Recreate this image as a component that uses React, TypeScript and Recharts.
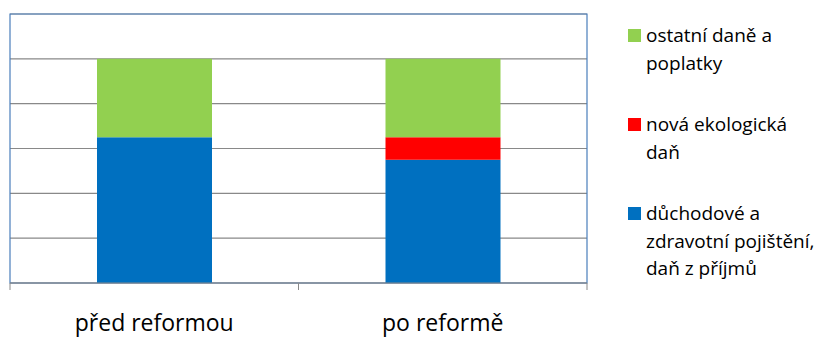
import React from "react";
import {
  BarChart,
  Bar,
  XAxis,
  YAxis,
  CartesianGrid,
  Legend,
  ReferenceArea,
} from "recharts";

const categories = ["před reformou", "po reformě"];
const pensionAndIncome = [3.25, 2.75];
const ecoTax = [0, 0.5];
const otherTaxes = [1.75, 1.75];
const yTicks = [0, 1, 2, 3, 4, 5, 6];

const series = [
  { key: "pension", name: "důchodové a\nzdravotní pojištění,\ndaň z příjmů", color: "#0070c0" },
  { key: "eco", name: "nová ekologická\ndaň", color: "#ff0000" },
  { key: "other", name: "ostatní daně a\npoplatky", color: "#92d050" },
];

const data = categories.map((name, i) => ({
  name,
  pension: pensionAndIncome[i],
  eco: ecoTax[i],
  other: otherTaxes[i],
}));

const GRID = "#898989";
const BORDER = "#4a7ebb";
const TICK_SIZE = 8;
const TICK_MARGIN = 0;
const FONT = "'Open Sans', sans-serif";

function CategoryTick(props: any) {
  const { x, y, payload, index } = props;
  const half = payload?.offset ?? 0;
  const y0 = y - TICK_SIZE - TICK_MARGIN;
  return (
    <g>
      <line x1={x - half} x2={x - half} y1={y0} y2={y0 + 7} stroke={GRID} />
      {index === categories.length - 1 && (
        <line x1={x + half} x2={x + half} y1={y0} y2={y0 + 7} stroke={GRID} />
      )}
      <text x={x} y={y0 + 48} textAnchor="middle" fontSize={23} fill="#000" fontFamily={FONT}>
        {payload.value}
      </text>
    </g>
  );
}

const NoTick = () => <g />;

function LegendBox() {
  // top-to-bottom order is reversed relative to the stack
  const items = [...series].reverse();
  return (
    <div style={{ paddingTop: 22, paddingLeft: 41, fontFamily: FONT, fontSize: 19, color: "#000" }}>
      {items.map((s) => (
        <div key={s.key} style={{ position: "relative", paddingLeft: 18, marginBottom: 34, lineHeight: "27.5px", whiteSpace: "pre-line" }}>
          <span
            style={{ position: "absolute", left: 0, top: 7, width: 13, height: 13, background: s.color }}
          />
          {s.name}
        </div>
      ))}
    </div>
  );
}

export default function App() {
  return (
    <div style={{ position: "absolute", left: 0, top: 0, width: 821, height: 338, background: "#fff" }}>
      <BarChart
        width={821}
        height={338}
        data={data}
        margin={{ top: 14, right: 0, left: 9, bottom: 0 }}
        barSize={115}
      >
        <CartesianGrid vertical={false} stroke={GRID} strokeWidth={1.2} />
        <ReferenceArea y1={0} y2={6} fill="none" stroke={BORDER} strokeWidth={1.2} ifOverflow="visible" />
        <XAxis
          dataKey="name"
          height={55}
          tickLine={false}
          tickSize={TICK_SIZE}
          tickMargin={TICK_MARGIN}
          axisLine={{ stroke: GRID }}
          tick={<CategoryTick />}
          interval={0}
        />
        <YAxis
          type="number"
          domain={[0, 6]}
          ticks={yTicks}
          interval={0}
          width={1}
          tick={<NoTick />}
          tickLine={false}
          axisLine={false}
        />
        <Legend
          layout="vertical"
          align="right"
          verticalAlign="top"
          wrapperStyle={{ top: 0, right: 0, width: 234 }}
          content={<LegendBox />}
        />
        {series.map((s) => (
          <Bar key={s.key} dataKey={s.key} name={s.name} stackId="a" fill={s.color} isAnimationActive={false} />
        ))}
      </BarChart>
    </div>
  );
}
